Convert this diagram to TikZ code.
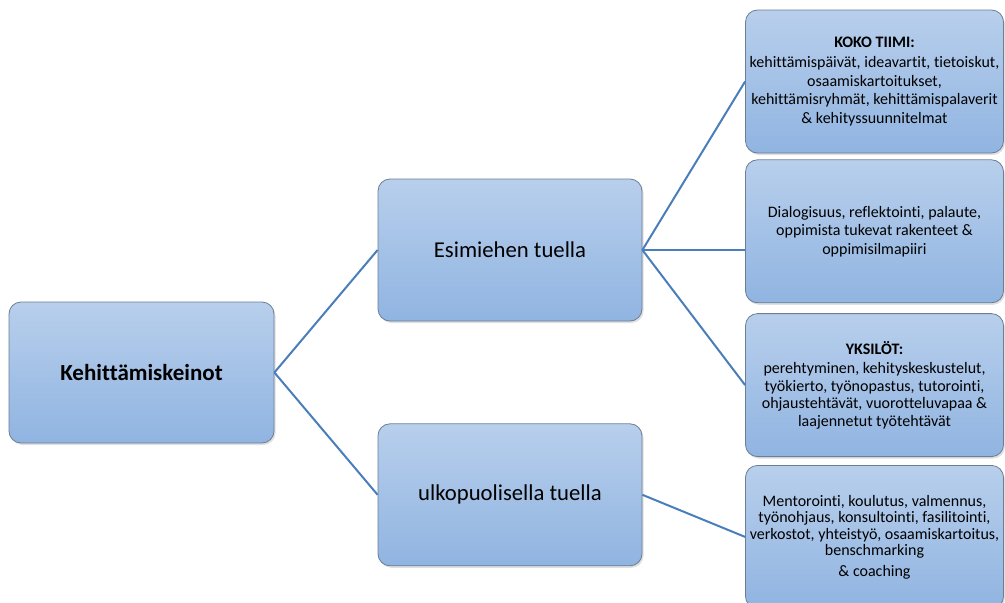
\documentclass[tikz,border=0pt]{standalone}
\usepackage{fontspec}
\setmainfont{Carlito}[Ligatures=NoCommon]
\usepackage{tikz}
\usetikzlibrary{positioning,shadows}

\definecolor{boxtop}{HTML}{B8CFEC}
\definecolor{boxbot}{HTML}{90B4E1}
\definecolor{boxline}{HTML}{6B7E96}
\definecolor{linkblue}{HTML}{4A7EBB}

\begin{document}
\begin{tikzpicture}[
  x=1pt, y=-1pt,
  every node/.style={text=black},
  box/.style={draw=boxline, line width=0.8pt, rounded corners=12pt, top color=boxtop, bottom color=boxbot, align=center, inner sep=2pt, drop shadow={opacity=0.25, shadow xshift=1.5pt, shadow yshift=-2pt}},
  rootbox/.style={box, minimum width=265pt, minimum height=141pt, font=\fontsize{23}{27}\selectfont\bfseries},
  midbox/.style={box, minimum width=264pt, minimum height=142pt, font=\fontsize{22.7}{27}\selectfont},
  leafbox/.style={box, minimum width=258pt, minimum height=143pt, font=\fontsize{16}{18.5}\selectfont},
  link/.style={draw=linkblue, line width=2pt},
]
\useasboundingbox (0,0) rectangle (1005,603);
\clip (0,0) rectangle (1005,603);

\node[rootbox] (root) at (141.5,372.5) {Kehittämiskeinot};
\node[midbox] (esim) at (510,250) {Esimiehen tuella};
\node[midbox, below=102pt of esim] (ulko) {ulkopuolisella tuella};

\node[leafbox] (tiimi) at (874.5,81.5) {\textbf{KOKO TIIMI:}\\[2pt] kehittämispäivät, ideavartit, tietoiskut,\\ osaamiskartoitukset,\\ kehittämisryhmät, kehittämispalaverit\\ \& kehityssuunnitelmat};
\node[leafbox, below=6pt of tiimi] (dialogi) {Dialogisuus, reflektointi, palaute,\\ oppimista tukevat rakenteet \&\\ oppimisilmapiiri};
\node[leafbox, below=10pt of dialogi, font=\fontsize{16}{17.5}\selectfont] (yksilot) {\textbf{YKSILÖT:}\\[2pt] perehtyminen, kehityskeskustelut,\\ työkierto, työnopastus, tutorointi,\\ ohjaustehtävät, vuorotteluvapaa \&\\ laajennetut työtehtävät};
\node[leafbox, below=8pt of yksilot, font=\fontsize{16}{16.5}\selectfont] (ulkoiset) {Mentorointi, koulutus, valmennus,\\ työnohjaus, konsultointi, fasilitointi,\\ verkostot, yhteistyö, osaamiskartoitus,\\ benschmarking\\[4pt] \& coaching};

\draw[link] (root.east) -- (esim.west);
\draw[link] (root.east) -- (ulko.west);
\draw[link] (esim.east) -- (tiimi.west);
\draw[link] (esim.east) -- (esim.east -| dialogi.west);
\draw[link] (esim.east) -- (yksilot.west);
\draw[link] (ulko.east) -- (ulkoiset.west);
\end{tikzpicture}
\end{document}
